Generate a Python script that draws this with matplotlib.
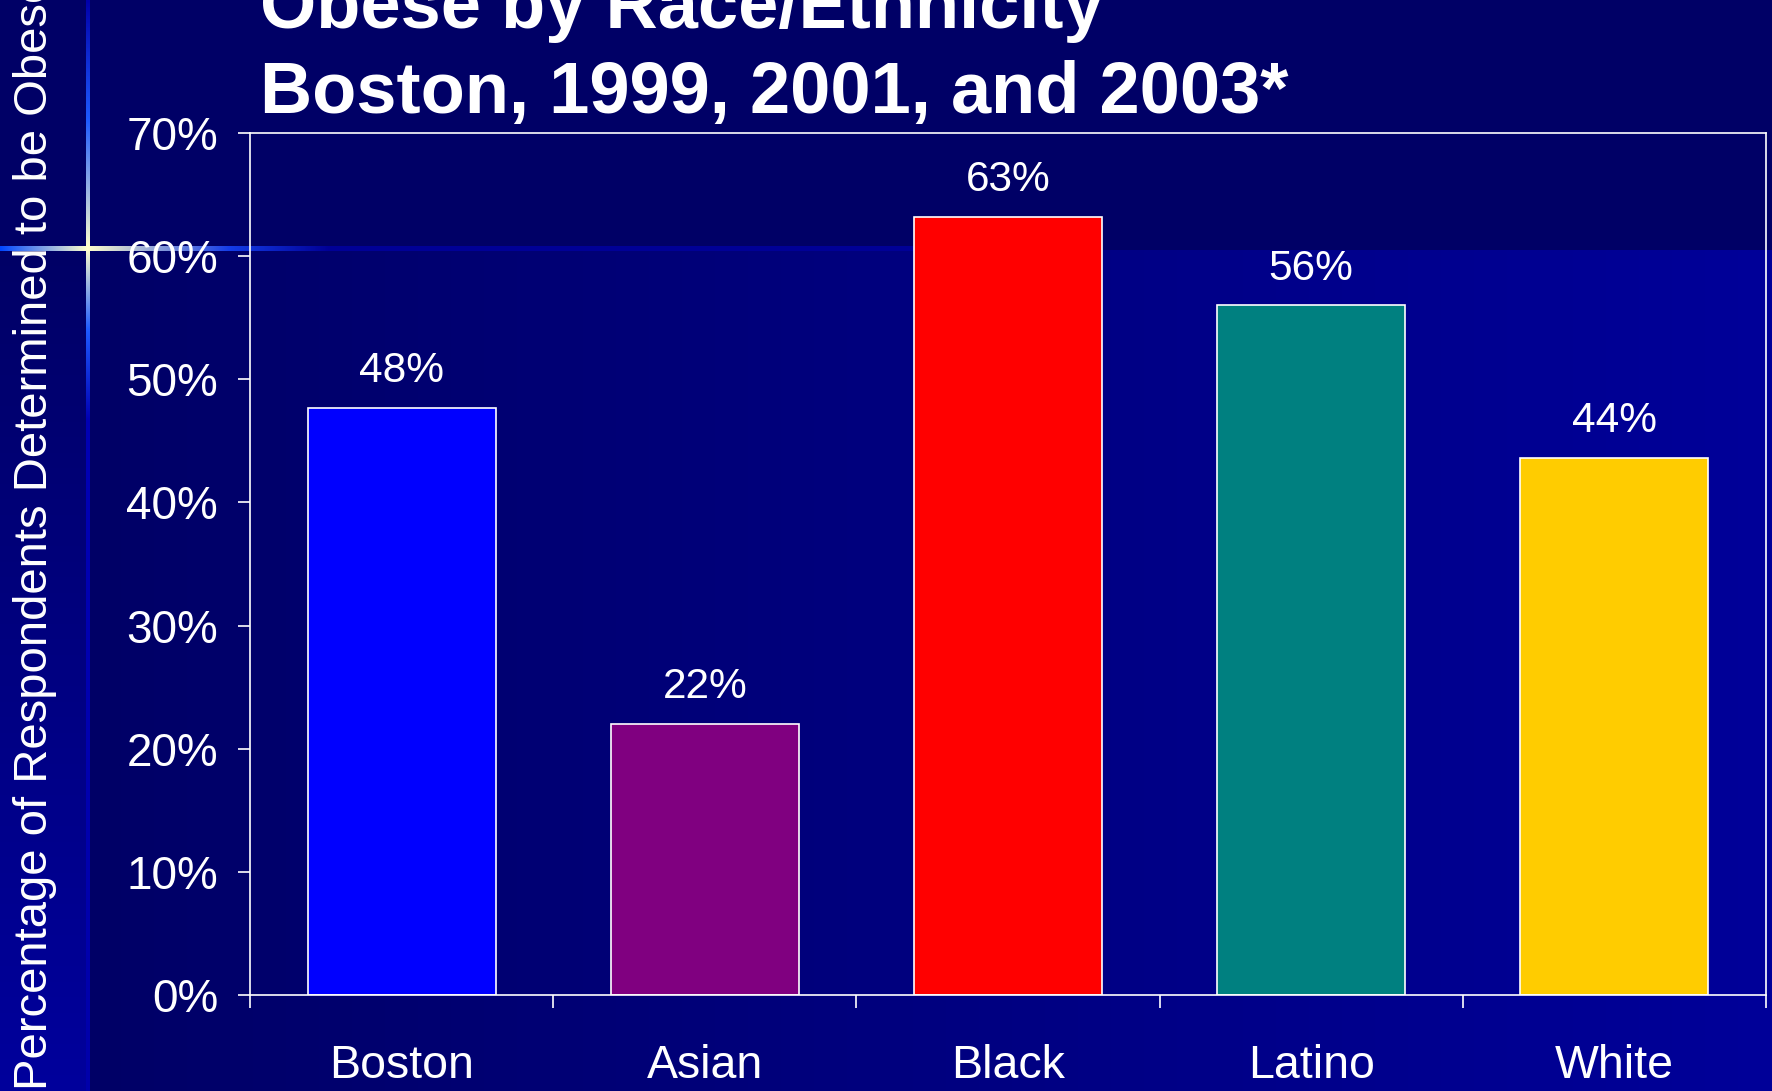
import matplotlib
matplotlib.use("Agg")
import matplotlib.pyplot as plt
import numpy as np

# data
groups = ["Boston", "Asian", "Black", "Latino", "White"]
pct_obese = [47.7, 22.0, 63.2, 56.0, 43.6]
bar_colors = ["#0000FF", "#800080", "#FF0000", "#008080", "#FFCC00"]
y_ticks = [0, 10, 20, 30, 40, 50, 60, 70]
title_lines = ["Obese by Race/Ethnicity", "Boston, 1999, 2001, and 2003*"]
y_label = "Percentage of Respondents Determined to be Obese"

plt.rcParams['font.family'] = ['Liberation Sans', 'DejaVu Sans']

W, H = 1772, 1091
fig = plt.figure(figsize=(W / 100, H / 100), dpi=100)

#slide background built as an rgb picture
bg = np.zeros((H, W, 3))
bg[:, :, 2] = 0x66 / 255
split_y = 250
strip_x = 87
xs = np.linspace(0, 1, W - strip_x)
bg[split_y:, strip_x:, 2] = (0x66 + (0x99 - 0x66) * xs) / 255
ys = np.linspace(0, 1, H - split_y)
bg[split_y:, :strip_x, 2] = ((0x66 + (0x9c - 0x66) * ys) / 255)[:, None]

def blend(c1, c2, n):
    c1 = np.array(c1) / 255
    c2 = np.array(c2) / 255
    t = np.linspace(0, 1, n)[:, None]
    return c1 * (1 - t) + c2 * t

glow = (255, 255, 204)
# vertical glow line
bg[0:120, 86:90] = blend((0, 0, 170), (30, 90, 255), 120)[:, None, :]
bg[120:248, 86:90] = blend((30, 90, 255), glow, 128)[:, None, :]
bg[248:330, 86:90] = blend(glow, (30, 90, 255), 82)[:, None, :]
bg[330:420, 86:90] = blend((30, 90, 255), (0, 0, 180), 90)[:, None, :]
bg[420:, 86:90] = blend((0, 0, 180), (0, 0, 170), H - 420)[:, None, :]
# horizontal glow line
bg[246:251, 0:88] = blend((0, 70, 255), glow, 88)[None, :, :]
bg[246:251, 88:230] = blend(glow, (20, 60, 230), 142)[None, :, :]
bg[246:251, 230:330] = blend((20, 60, 230), (0, 0, 150), 100)[None, :, :]
bg[246:251, 330:1100] = np.array([0, 0, 150]) / 255

bg_ax = fig.add_axes([0, 0, 1, 1], zorder=-10)
bg_ax.imshow(bg, aspect='auto', interpolation='nearest')
bg_ax.axis('off')

ax = fig.add_axes([250 / W, 1 - 995 / H, (1766 - 250) / W, (995 - 133) / H])
ax.patch.set_alpha(0)

x = np.arange(len(groups))
bars = ax.bar(x, pct_obese, width=0.62, color=bar_colors, edgecolor='white', linewidth=1.2)
for xi, v in zip(x, pct_obese):
    ax.annotate(f"{v:.0f}%", (xi, v), xytext=(0, 12), textcoords='offset points',
                ha='center', va='bottom', color='white', fontsize=30.5)

ax.set_xlim(-0.5, len(groups) - 0.5)
ax.set_ylim(0, 70)
ax.set_yticks(y_ticks)
ax.set_yticklabels([f"{t}%" for t in y_ticks])
ax.set_xticks(x)
ax.set_xticklabels(groups)
ax.set_xticks(np.arange(len(groups) + 1) - 0.5, minor=True)

ax.tick_params(axis='y', colors='white', labelsize=33, length=9, width=1.2, pad=14)
ax.tick_params(axis='x', which='major', colors='white', labelsize=33.5, length=0, pad=35)
ax.tick_params(axis='x', which='minor', colors='white', length=9.5, width=1.2)
for s in ax.spines.values():
    s.set_color('white')
    s.set_linewidth(1.2)

fig.text(260 / W, 1 - 28 / H, title_lines[0], color='white', fontsize=52,
         fontweight='bold', ha='left', va='baseline')
fig.text(260 / W, 1 - 113 / H, title_lines[1], color='white', fontsize=52,
         fontweight='bold', ha='left', va='baseline')

fig.text(35 / W, 1 - 533 / H, y_label, color='white', fontsize=34, rotation=90,
         ha='center', va='center')

fig.savefig('out.png', dpi=100)
